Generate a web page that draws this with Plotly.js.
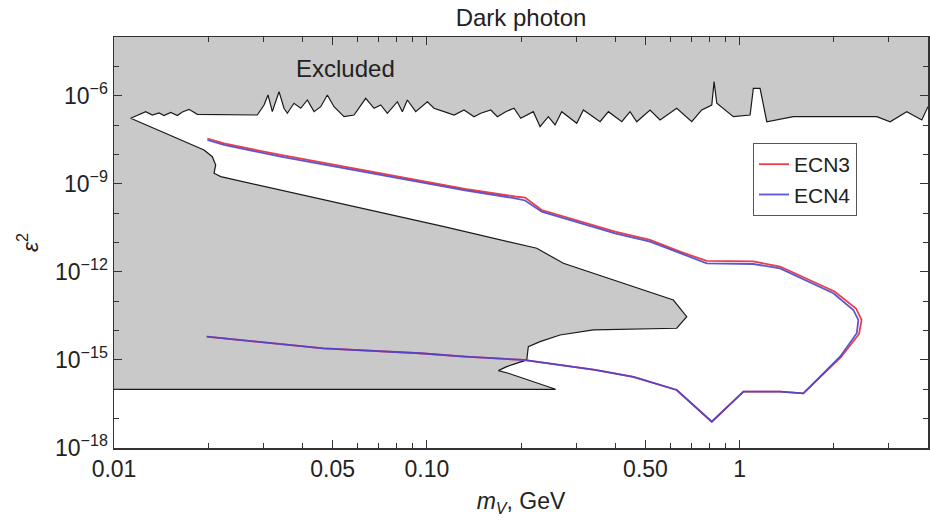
<!DOCTYPE html>
<html>
<head>
<meta charset="utf-8">
<script src="https://cdn.plot.ly/plotly-3.0.1.min.js"></script>
<style>html,body{margin:0;padding:0;background:#fff}#chart{width:930px;height:520px}</style>
</head>
<body>
<div id="chart"></div>
<script>
// Upper excluded-region boundary (left to right): m_V [GeV], eps^2
const topMass = [0.01131, 0.01263, 0.01326, 0.01393, 0.01445, 0.01518, 0.01594, 0.01654, 0.01737, 0.01846,
  0.02871, 0.03017, 0.03107, 0.03207, 0.03369, 0.03495, 0.03581, 0.03762, 0.03953, 0.04150,
  0.04360, 0.04580, 0.04808, 0.05050, 0.05437, 0.05852, 0.06378, 0.06781, 0.07123, 0.07478,
  0.08050, 0.08351, 0.08665, 0.09216, 0.1004, 0.1054, 0.1135, 0.1222, 0.1315, 0.1416,
  0.1487, 0.1601, 0.1681, 0.1787, 0.1900, 0.1996, 0.2190, 0.2301, 0.2446, 0.2570,
  0.2699, 0.3015, 0.3165, 0.3579, 0.3805, 0.4200, 0.4463, 0.4688, 0.5171, 0.5566,
  0.6293, 0.7029, 0.7564, 0.8144, 0.8284, 0.8450, 0.8656, 0.9546, 1.080, 1.106,
  1.162, 1.221, 1.485, 2.744, 3.027, 3.421, 3.821, 4.0];
const topEps2 = [1.70e-7, 2.86e-7, 2.20e-7, 2.58e-7, 2.12e-7, 2.68e-7, 2.12e-7, 2.79e-7, 3.44e-7, 2.33e-7,
  2.20e-7, 4.83e-7, 1.06e-6, 2.86e-7, 1.37e-6, 3.73e-7, 2.52e-7, 5.52e-7, 3.73e-7, 7.15e-7,
  2.86e-7, 4.23e-7, 1.06e-6, 4.23e-7, 1.93e-7, 2.20e-7, 8.17e-7, 3.73e-7, 4.83e-7, 2.52e-7,
  6.25e-7, 2.86e-7, 7.15e-7, 2.86e-7, 6.25e-7, 3.73e-7, 2.86e-7, 2.20e-7, 3.27e-7, 1.93e-7,
  2.52e-7, 3.27e-7, 1.93e-7, 2.86e-7, 3.73e-7, 1.70e-7, 2.86e-7, 8.81e-8, 1.93e-7, 1.01e-7,
  2.86e-7, 1.15e-7, 3.27e-7, 1.30e-7, 2.86e-7, 1.30e-7, 2.86e-7, 1.30e-7, 3.27e-7, 1.49e-7,
  3.73e-7, 1.30e-7, 3.27e-7, 4.83e-7, 3.01e-6, 5.52e-7, 4.23e-7, 1.93e-7, 2.20e-7, 1.79e-6,
  1.79e-6, 1.30e-7, 1.93e-7, 1.93e-7, 1.30e-7, 2.86e-7, 1.49e-7, 4.23e-7];

// Lower excluded-region boundary (from the left tip around the wedge, down to the 1e-16 floor)
const lowMass = [0.01940, 0.02062, 0.02114, 0.02088, 0.02194, 0.1135, 0.2246, 0.2732, 0.6139, 0.6774,
  0.6293, 0.3406, 0.2666, 0.2301, 0.2111, 0.2086, 0.1800, 0.1693, 0.1822, 0.2580, 0.01];
const lowEps2 = [1.42e-8, 8.38e-9, 4.37e-9, 2.28e-9, 1.75e-9, 3.46e-11, 6.35e-12, 1.96e-12, 1.10e-13, 2.98e-14,
  1.20e-14, 1.05e-14, 7.08e-15, 4.19e-15, 2.83e-15, 1.00e-15, 5.89e-16, 4.31e-16, 3.52e-16, 1.0e-16, 1.0e-16];

// Sensitivity contours
const ecn3Mass = [0.01988, 0.02247, 0.03412, 0.05852, 0.1135, 0.1325, 0.1914, 0.2061, 0.2330, 0.3997,
  0.5171, 0.6449, 0.7850, 1.106, 1.347, 2.011, 2.355, 2.453, 2.408, 2.110,
  1.598, 1.347, 1.028, 0.8144, 0.6293, 0.4573, 0.3449, 0.2035, 0.1325, 0.09512, 0.04669, 0.01979];
const ecn3Eps2 = [3.49e-8, 2.36e-8, 9.57e-9, 3.32e-9, 9.10e-10, 6.65e-10, 3.69e-10, 3.41e-10, 1.28e-10, 2.34e-11,
  1.22e-11, 4.86e-12, 2.35e-12, 2.26e-12, 1.52e-12, 2.15e-13, 5.66e-14, 2.30e-14, 7.66e-15, 1.26e-15,
  7.31e-17, 8.30e-17, 8.30e-17, 7.89e-18, 9.48e-17, 2.63e-16, 4.55e-16, 1.0e-15, 1.29e-15, 1.69e-15, 2.49e-15, 6.19e-15];
const ecn4Mass = [0.01988, 0.02247, 0.03412, 0.05852, 0.1135, 0.1325, 0.1914, 0.2061, 0.2330, 0.3997,
  0.5171, 0.6449, 0.7850, 1.106, 1.347, 1.994, 2.309, 2.396, 2.368, 2.094,
  1.598, 1.347, 1.028, 0.8144, 0.6293, 0.4573, 0.3449, 0.2035, 0.1325, 0.09512, 0.04669, 0.01979];
const ecn4Eps2 = [3.10e-8, 2.10e-8, 8.38e-9, 2.95e-9, 7.96e-10, 5.92e-10, 3.21e-10, 2.70e-10, 1.12e-10, 2.06e-11,
  1.07e-11, 4.30e-12, 1.96e-12, 1.85e-12, 1.32e-12, 1.86e-13, 5.04e-14, 2.30e-14, 8.09e-15, 1.29e-15,
  7.31e-17, 8.30e-17, 8.30e-17, 7.89e-18, 9.48e-17, 2.63e-16, 4.55e-16, 1.0e-15, 1.29e-15, 1.69e-15, 2.49e-15, 6.19e-15];

const seriesNames = ['ECN3', 'ECN4'];
const xTickVals = [0.01, 0.05, 0.1, 0.5, 1];
const xTickText = ['0.01', '0.05', '0.10', '0.50', '1'];
const xMinorVals = [0.02, 0.03, 0.04, 0.06, 0.07, 0.08, 0.09, 0.2, 0.3, 0.4, 0.6, 0.7, 0.8, 0.9, 2, 3];
const yTickVals = [1e-18, 1e-15, 1e-12, 1e-9, 1e-6];
const yTickText = ['10<sup>\u221218</sup>', '10<sup>\u221215</sup>', '10<sup>\u221212</sup>', '10<sup>\u22129</sup>', '10<sup>\u22126</sup>'];
const yMinorVals = [1e-17, 1e-16, 1e-14, 1e-13, 1e-11, 1e-10, 1e-8, 1e-7, 1e-5];

const xRange = [0.01, 4];
const yRange = [1e-18, 1e-4];

// allowed (white) region: boundary path, closed through the lower-right corner outside the frame
const boundX = topMass.slice().reverse().concat(lowMass);
const boundY = topEps2.slice().reverse().concat(lowEps2);
const fillX = boundX.concat([xRange[0] * 0.8, xRange[0] * 0.8, xRange[1] * 1.2, xRange[1] * 1.2]);
const fillY = boundY.concat([lowEps2[lowEps2.length - 1], yRange[0] * 0.1, yRange[0] * 0.1, topEps2[topEps2.length - 1]]);

const FONT = 'Liberation Sans, Arial, Helvetica, sans-serif';

const traces = [
  {x: fillX, y: fillY, type: 'scatter', mode: 'lines', fill: 'toself', fillcolor: '#ffffff',
   line: {color: '#1a1a1a', width: 1.2}, showlegend: false, hoverinfo: 'skip'},
  {x: ecn3Mass, y: ecn3Eps2, type: 'scatter', mode: 'lines', name: seriesNames[0],
   line: {color: '#e8404a', width: 1.8}},
  {x: ecn4Mass, y: ecn4Eps2, type: 'scatter', mode: 'lines', name: seriesNames[1],
   line: {color: '#4a42d0', width: 1.8}, opacity: 0.9}
];

const layout = {
  width: 930, height: 520,
  margin: {l: 114, r: 2, t: 37, b: 72},
  paper_bgcolor: '#ffffff',
  plot_bgcolor: '#c9c9c9',
  font: {family: FONT, color: '#222', size: 23},
  title: {text: 'Dark photon', x: 0.5, xref: 'paper', xanchor: 'center', y: 1 - 18 / 520, yref: 'container', yanchor: 'middle',
          font: {family: FONT, size: 24, color: '#222'}},
  xaxis: {
    type: 'log', range: [Math.log10(xRange[0]), Math.log10(xRange[1])],
    tickmode: 'array', tickvals: xTickVals, ticktext: xTickText,
    ticks: 'inside', ticklen: 8, tickwidth: 1, tickcolor: '#333',
    minor: {tickmode: 'array', tickvals: xMinorVals, ticks: 'inside', ticklen: 5, tickwidth: 1, tickcolor: '#333', showgrid: false},
    showline: true, linecolor: '#333', linewidth: 1.5, mirror: 'ticks',
    showgrid: false, zeroline: false,
    tickfont: {family: FONT, size: 23, color: '#222'},
    title: {text: '<i>m</i><sub><i>V</i></sub>, GeV', font: {family: FONT, size: 23, color: '#222'}, standoff: 12}
  },
  yaxis: {
    type: 'log', range: [Math.log10(yRange[0]), Math.log10(yRange[1])],
    tickmode: 'array', tickvals: yTickVals, ticktext: yTickText,
    ticks: 'inside', ticklen: 8, tickwidth: 1, tickcolor: '#333',
    minor: {tickmode: 'array', tickvals: yMinorVals, ticks: 'inside', ticklen: 5, tickwidth: 1, tickcolor: '#333', showgrid: false},
    showline: true, linecolor: '#333', linewidth: 1.5, mirror: 'ticks',
    showgrid: false, zeroline: false,
    tickfont: {family: FONT, size: 23, color: '#222'},
    title: {text: '<i>\u03b5</i><sup>2</sup>', font: {family: FONT, size: 23, color: '#222'}, standoff: 10}
  },
  legend: {x: 0.785, y: 0.742, xanchor: 'left', yanchor: 'top', bgcolor: '#ffffff', bordercolor: '#555', borderwidth: 1,
           font: {family: FONT, size: 21, color: '#222'}, traceorder: 'normal',
           entrywidth: 66, entrywidthmode: 'pixels'},
  annotations: [
    {text: 'Excluded', xref: 'paper', yref: 'paper', x: (345 - 114) / 814, y: (448 - 68) / 411, showarrow: false,
     font: {family: FONT, size: 24, color: '#222'}, xanchor: 'center', yanchor: 'middle'}
  ]
};

Plotly.newPlot('chart', traces, layout, {displayModeBar: false, staticPlot: true});
</script>
</body>
</html>
